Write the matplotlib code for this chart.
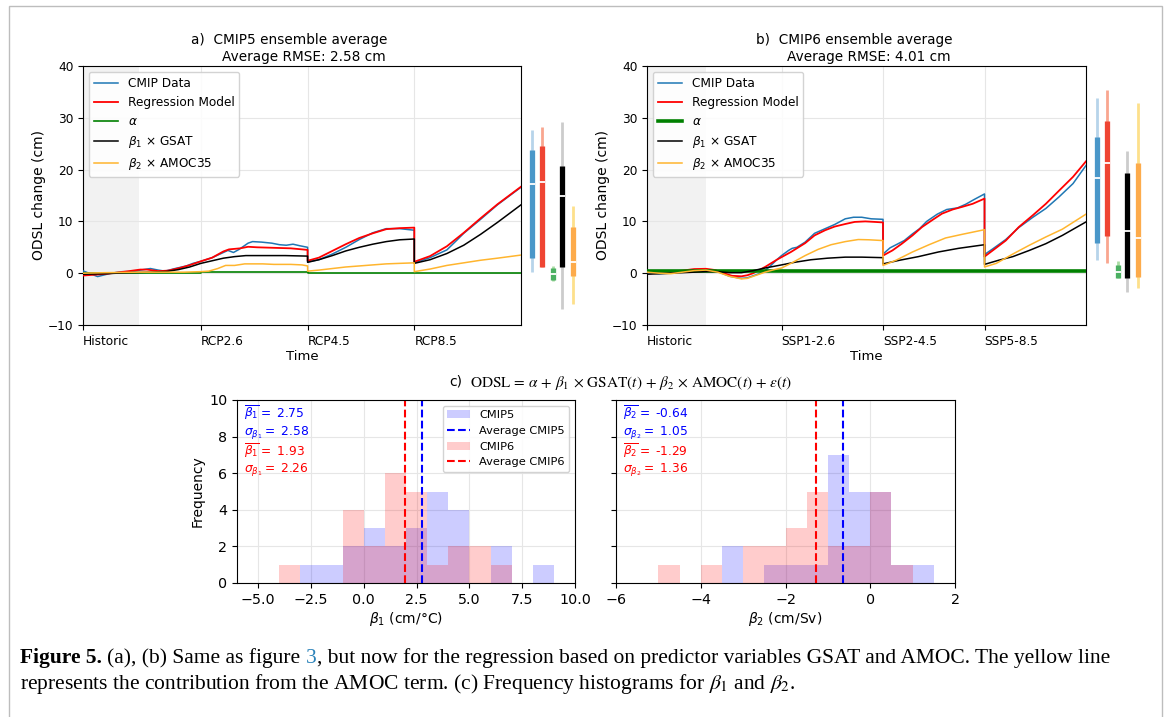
import matplotlib
matplotlib.use('Agg')
import matplotlib.pyplot as plt
import matplotlib.transforms as mtransforms
from matplotlib.patches import Rectangle, Patch
from matplotlib.lines import Line2D
import numpy as np

# ======================= DATA =======================
# ---- panel a: CMIP5 (historic 1900-2005, scenarios 2005-2100) ----
A_SCEN_LABELS = ['Historic', 'RCP2.6', 'RCP4.5', 'RCP8.5']
A_HIST_END = 2005
# CMIP data (blue)
A_CMIP_H_YR = [1900, 1913, 1925, 1935, 1944, 1951, 1960, 1967, 1973, 1982, 1992, 1998, 2005]
A_CMIP_H = [0.45, -0.65, 0.0, 0.3, 0.3, 0.6, 0.9, 0.6, 0.4, 0.9, 1.4, 1.9, 2.3]
A_CMIP_S1_YR = [2005, 2015, 2025, 2029, 2034, 2039, 2047, 2051, 2059, 2068, 2075, 2081, 2087, 2093, 2100]
A_CMIP_S1 = [2.3, 3.0, 4.0, 4.4, 4.0, 4.6, 5.8, 6.1, 6.0, 5.8, 5.5, 5.4, 5.6, 5.3, 5.0]
A_CMIP_S2_YR = [2005, 2015, 2027, 2039, 2051, 2063, 2075, 2087, 2100]
A_CMIP_S2 = [2.2, 2.6, 3.7, 5.0, 6.5, 7.8, 8.6, 8.6, 8.3]
A_CMIP_S3_YR = [2005, 2019, 2034, 2043, 2049, 2064, 2079, 2100]
A_CMIP_S3 = [2.0, 3.0, 4.5, 6.4, 7.7, 10.4, 13.2, 16.6]
# regression model (red)
A_REG_H_YR = [1900, 1916, 1928, 1941, 1951, 1957, 1967, 1976, 1986, 1995, 2005]
A_REG_H = [-0.45, -0.2, 0.05, 0.4, 0.7, 0.7, 0.4, 0.5, 1.0, 1.55, 2.3]
A_REG_S1_YR = [2005, 2015, 2025, 2030, 2040, 2047, 2055, 2070, 2085, 2100]
A_REG_S1 = [2.3, 3.0, 4.2, 4.6, 4.8, 5.1, 5.0, 4.9, 4.8, 4.5]
A_REG_S2_YR = [2005, 2015, 2027, 2039, 2051, 2063, 2075, 2087, 2100]
A_REG_S2 = [2.4, 3.0, 4.3, 5.6, 6.8, 7.7, 8.5, 8.7, 8.8]
A_REG_S3_YR = [2005, 2019, 2034, 2049, 2064, 2079, 2100]
A_REG_S3 = [2.2, 3.3, 5.2, 7.8, 10.6, 13.3, 16.7]
# beta1 x GSAT (black)
A_GSAT_H_YR = [1900, 1920, 1940, 1960, 1975, 1985, 1995, 2005]
A_GSAT_H = [-0.2, -0.1, 0.1, 0.2, 0.35, 0.7, 1.2, 1.9]
A_GSAT_S1_YR = [2005, 2015, 2025, 2035, 2045, 2060, 2080, 2100]
A_GSAT_S1 = [1.9, 2.4, 2.9, 3.2, 3.4, 3.4, 3.4, 3.3]
A_GSAT_S2_YR = [2005, 2015, 2027, 2039, 2051, 2063, 2075, 2087, 2100]
A_GSAT_S2 = [2.1, 2.6, 3.4, 4.3, 5.0, 5.6, 6.1, 6.45, 6.6]
A_GSAT_S3_YR = [2005, 2019, 2034, 2049, 2064, 2079, 2100]
A_GSAT_S3 = [1.9, 2.6, 3.8, 5.4, 7.5, 9.8, 13.2]
# beta2 x AMOC (orange)
A_AMOC_H_YR = [1900, 1920, 1950, 1970, 1990, 2005]
A_AMOC_H = [0.0, 0.1, 0.2, 0.2, 0.2, 0.3]
A_AMOC_S1_YR = [2005, 2012, 2020, 2027, 2035, 2044, 2060, 2070, 2085, 2095, 2100]
A_AMOC_S1 = [0.3, 0.4, 0.9, 1.5, 1.5, 1.8, 1.8, 1.7, 1.7, 1.6, 1.4]
A_AMOC_S2_YR = [2005, 2015, 2027, 2039, 2051, 2063, 2075, 2087, 2100]
A_AMOC_S2 = [0.4, 0.6, 0.9, 1.2, 1.4, 1.6, 1.8, 1.9, 2.0]
A_AMOC_S3_YR = [2005, 2019, 2034, 2049, 2064, 2079, 2100]
A_AMOC_S3 = [0.3, 0.8, 1.5, 2.0, 2.5, 2.9, 3.5]
# alpha per segment
A_ALPHA = [0.1, 0.2, 0.1, 0.0]
# spread bars: CMIP data, regression, alpha, GSAT, AMOC
A_BAR_LO_LIGHT = [0.3, 1.15, -1.45, -6.9, -5.9]
A_BAR_LO_DARK = [3.0, 1.25, -1.3, 1.25, -0.5]
A_BAR_MED = [17.2, 17.7, -0.15, 14.9, 2.2]
A_BAR_HI_DARK = [23.8, 24.5, 0.95, 20.7, 8.9]
A_BAR_HI_LIGHT = [27.6, 28.2, 1.4, 29.1, 13.0]

# ---- panel b: CMIP6 (historic 1900-2014, scenarios 2014-2100) ----
B_SCEN_LABELS = ['Historic', 'SSP1-2.6', 'SSP2-4.5', 'SSP5-8.5']
B_HIST_END = 2014
B_CMIP_H_YR = [1900, 1910, 1920, 1930, 1940, 1950, 1960, 1970, 1980, 1985, 1990, 1995, 2000, 2005, 2010, 2014]
B_CMIP_H = [0.1, -0.1, 0.0, 0.3, 0.6, 0.7, 0.3, -0.6, -1.0, -0.9, -0.5, -0.1, 0.5, 1.5, 2.6, 3.4]
B_CMIP_S1_YR = [2014, 2020, 2023, 2027, 2034, 2042, 2051, 2059, 2068, 2075, 2082, 2090, 2100]
B_CMIP_S1 = [3.4, 4.4, 4.8, 5.0, 6.0, 7.7, 8.6, 9.4, 10.5, 10.8, 10.8, 10.5, 10.4]
B_CMIP_S2_YR = [2014, 2020, 2026, 2032, 2039, 2045, 2051, 2060, 2068, 2077, 2084, 2091, 2100]
B_CMIP_S2 = [3.7, 4.9, 5.6, 6.3, 7.6, 8.6, 10.0, 11.4, 12.3, 12.6, 13.3, 14.2, 15.3]
B_CMIP_S3_YR = [2014, 2021, 2032, 2043, 2055, 2066, 2077, 2089, 2100]
B_CMIP_S3 = [3.6, 4.7, 6.5, 8.8, 10.8, 12.5, 14.7, 17.3, 20.8]
B_REG_H_YR = [1900, 1910, 1920, 1930, 1940, 1950, 1958, 1965, 1972, 1980, 1985, 1990, 1995, 2000, 2005, 2010, 2014]
B_REG_H = [0.4, 0.3, 0.3, 0.5, 0.8, 0.85, 0.6, 0.0, -0.5, -0.6, -0.4, 0.0, 0.6, 1.2, 1.9, 2.6, 3.1]
B_REG_S1_YR = [2014, 2022, 2034, 2042, 2051, 2059, 2068, 2076, 2085, 2093, 2100]
B_REG_S1 = [3.1, 4.1, 5.8, 7.3, 8.3, 9.0, 9.5, 9.9, 10.0, 9.9, 9.8]
B_REG_S2_YR = [2014, 2022, 2030, 2039, 2047, 2056, 2064, 2073, 2081, 2090, 2100]
B_REG_S2 = [3.4, 4.4, 5.7, 7.3, 8.9, 10.3, 11.5, 12.3, 12.8, 13.4, 14.4]
B_REG_S3_YR = [2014, 2021, 2032, 2043, 2055, 2066, 2077, 2089, 2100]
B_REG_S3 = [3.2, 4.4, 6.3, 8.9, 11.2, 13.4, 15.9, 18.6, 21.6]
B_GSAT_H_YR = [1900, 1910, 1920, 1930, 1940, 1950, 1960, 1970, 1980, 1990, 2000, 2014]
B_GSAT_H = [-0.2, -0.1, 0.0, 0.1, 0.2, 0.3, 0.3, 0.1, 0.1, 0.5, 1.0, 1.6]
B_GSAT_S1_YR = [2014, 2025, 2039, 2053, 2068, 2082, 2100]
B_GSAT_S1 = [1.6, 2.1, 2.6, 2.9, 3.1, 3.1, 3.0]
B_GSAT_S2_YR = [2014, 2028, 2044, 2061, 2078, 2100]
B_GSAT_S2 = [1.8, 2.5, 3.2, 4.1, 4.8, 5.5]
B_GSAT_S3_YR = [2014, 2026, 2038, 2052, 2066, 2080, 2100]
B_GSAT_S3 = [1.7, 2.5, 3.2, 4.4, 5.7, 7.3, 9.9]
B_AMOC_H_YR = [1900, 1910, 1920, 1930, 1940, 1950, 1960, 1970, 1980, 1985, 1990, 2000, 2008, 2014]
B_AMOC_H = [0.2, 0.0, -0.1, 0.2, 0.5, 0.6, 0.2, -0.6, -1.1, -1.0, -0.6, 0.2, 0.7, 1.0]
B_AMOC_S1_YR = [2014, 2022, 2034, 2045, 2056, 2068, 2079, 2088, 2100]
B_AMOC_S1 = [1.0, 1.9, 3.4, 4.6, 5.5, 6.1, 6.5, 6.45, 6.3]
B_AMOC_S2_YR = [2014, 2025, 2039, 2053, 2067, 2081, 2100]
B_AMOC_S2 = [1.5, 2.5, 4.1, 5.5, 6.8, 7.5, 8.4]
B_AMOC_S3_YR = [2014, 2024, 2038, 2052, 2066, 2080, 2100]
B_AMOC_S3 = [1.2, 1.9, 3.7, 5.4, 7.0, 8.5, 11.4]
B_ALPHA = [0.45, 0.45, 0.45, 0.45]
B_BAR_LO_LIGHT = [2.55, 2.0, -1.0, -3.6, -2.9]
B_BAR_LO_DARK = [5.8, 7.1, -0.85, -0.85, -0.7]
B_BAR_MED = [18.4, 21.3, 0.3, 8.2, 6.7]
B_BAR_HI_DARK = [26.2, 29.3, 1.6, 19.3, 21.3]
B_BAR_HI_LIGHT = [33.9, 35.4, 2.35, 23.6, 32.9]

# ---- panel c: histograms ----
B1_BIN_LEFT = [-4, -3, -2, -1, 0, 1, 2, 3, 4, 5, 6, 7, 8]
B1_CMIP5 = [0, 1, 1, 2, 3, 2, 3, 5, 4, 0, 2, 0, 1]
B1_CMIP6 = [1, 0, 0, 4, 2, 6, 5, 1, 2, 2, 1, 0, 0]
B1_MEAN5, B1_STD5, B1_MEAN6, B1_STD6 = 2.75, 2.58, 1.93, 2.26
B2_BIN_LEFT = [-5.0, -4.5, -4.0, -3.5, -3.0, -2.5, -2.0, -1.5, -1.0, -0.5, 0.0, 0.5, 1.0]
B2_CMIP5 = [0, 0, 0, 2, 0, 1, 1, 1, 7, 5, 5, 1, 1]
B2_CMIP6 = [1, 0, 1, 0, 2, 2, 3, 5, 2, 2, 5, 1, 0]
B2_MEAN5, B2_STD5, B2_MEAN6, B2_STD6 = -0.64, 1.05, -1.29, 1.36

# ======================= FIGURE =======================
W, H = 1171, 717
fig = plt.figure(figsize=(W / 100, H / 100), dpi=100)
fig.patch.set_facecolor('white')


def add_ax(l, t, r, b):
    return fig.add_axes([l / W, 1 - b / H, (r - l) / W, (b - t) / H])


LINE_COL = {'cmip': '#1f77b4', 'reg': 'red', 'alpha': 'green', 'gsat': 'black', 'amoc': '#ffb52e'}
BAR_DARK = ['#4a97c9', '#ef4533', '#4bb062', '#000000', '#fdab4b']
BAR_LIGHT = ['#b7d4ea', '#f9a68f', '#a9dca3', '#cccccc', '#fde08b']
BAR_X = [1.024, 1.047, 1.072, 1.094, 1.118]


def concat(segs, span):
    xs, ys = [], []
    for k, (yr, v) in enumerate(segs):
        off = 0 if k == 0 else (k - 1) * span
        xs.extend([y + off for y in yr])
        ys.extend(v)
    return xs, ys


def ts_panel(ax, hist_end, labels, series, alpha_vals, alpha_lw, bars, letter, t1, t2):
    span = 2100 - hist_end
    ax.axvspan(1900, 1950, color='#f2f2f2', zorder=0, lw=0)
    ax_x, ax_y = [], []
    bounds = [1900, hist_end, 2100, 2100 + span, 2100 + 2 * span]
    for k, a in enumerate(alpha_vals):
        ax_x += [bounds[k], bounds[k + 1]]
        ax_y += [a, a]
    h_cmip, = ax.plot(*concat(series['cmip'], span), color=LINE_COL['cmip'], lw=1.1, zorder=3)
    h_reg, = ax.plot(*concat(series['reg'], span), color=LINE_COL['reg'], lw=1.3, zorder=3)
    h_alpha, = ax.plot(ax_x, ax_y, color=LINE_COL['alpha'], lw=alpha_lw, zorder=3)
    h_gsat, = ax.plot(*concat(series['gsat'], span), color=LINE_COL['gsat'], lw=1.1, zorder=3)
    h_amoc, = ax.plot(*concat(series['amoc'], span), color=LINE_COL['amoc'], lw=1.1, zorder=3)
    ax.set_xlim(1900, 2100 + 2 * span)
    ax.set_ylim(-10, 40)
    ax.set_yticks([-10, 0, 10, 20, 30, 40])
    ax.set_xticks([1900, hist_end, 2100, 2100 + span])
    ax.set_xticklabels(labels, ha='left')
    ax.tick_params(labelsize=8.7)
    ax.grid(True, color='#e6e6e6', lw=0.8)
    ax.set_axisbelow(True)
    ax.set_xlabel('Time', fontsize=9.5, labelpad=2)
    ax.set_ylabel('ODSL change (cm)', fontsize=10, labelpad=1)
    ax.legend([h_cmip, h_reg, h_alpha, h_gsat, h_amoc],
              ['CMIP Data', 'Regression Model', r'$\alpha$',
               r'$\beta_1$ × GSAT', r'$\beta_2$ × AMOC35'],
              loc='upper left', fontsize=8.7, framealpha=0.85)
    ax.text(0.471, 1.10, letter + '  ' + t1, transform=ax.transAxes, ha='center', va='center', fontsize=9.8)
    ax.text(0.505, 1.035, t2, transform=ax.transAxes, ha='center', va='center', fontsize=9.8)
    tr = mtransforms.blended_transform_factory(ax.transAxes, ax.transData)
    lo_l, lo_d, med, hi_d, hi_l = bars
    for i in range(5):
        ax.plot([BAR_X[i]] * 2, [lo_l[i], hi_l[i]], color=BAR_LIGHT[i], lw=2.0,
                solid_capstyle='butt', transform=tr, clip_on=False)
        ax.plot([BAR_X[i]] * 2, [lo_d[i], hi_d[i]], color=BAR_DARK[i], lw=3.8,
                solid_capstyle='butt', transform=tr, clip_on=False)
        ax.plot([BAR_X[i] - 0.0075, BAR_X[i] + 0.0075], [med[i]] * 2, color='white', lw=1.3,
                solid_capstyle='butt', transform=tr, clip_on=False)


axA = add_ax(83, 66, 521, 325)
axB = add_ax(647, 66, 1086, 325)

ts_panel(axA, A_HIST_END, A_SCEN_LABELS,
         {'cmip': [(A_CMIP_H_YR, A_CMIP_H), (A_CMIP_S1_YR, A_CMIP_S1), (A_CMIP_S2_YR, A_CMIP_S2), (A_CMIP_S3_YR, A_CMIP_S3)],
          'reg': [(A_REG_H_YR, A_REG_H), (A_REG_S1_YR, A_REG_S1), (A_REG_S2_YR, A_REG_S2), (A_REG_S3_YR, A_REG_S3)],
          'gsat': [(A_GSAT_H_YR, A_GSAT_H), (A_GSAT_S1_YR, A_GSAT_S1), (A_GSAT_S2_YR, A_GSAT_S2), (A_GSAT_S3_YR, A_GSAT_S3)],
          'amoc': [(A_AMOC_H_YR, A_AMOC_H), (A_AMOC_S1_YR, A_AMOC_S1), (A_AMOC_S2_YR, A_AMOC_S2), (A_AMOC_S3_YR, A_AMOC_S3)]},
         A_ALPHA, 1.2,
         (A_BAR_LO_LIGHT, A_BAR_LO_DARK, A_BAR_MED, A_BAR_HI_DARK, A_BAR_HI_LIGHT),
         'a)', 'CMIP5 ensemble average', 'Average RMSE: 2.58 cm')

ts_panel(axB, B_HIST_END, B_SCEN_LABELS,
         {'cmip': [(B_CMIP_H_YR, B_CMIP_H), (B_CMIP_S1_YR, B_CMIP_S1), (B_CMIP_S2_YR, B_CMIP_S2), (B_CMIP_S3_YR, B_CMIP_S3)],
          'reg': [(B_REG_H_YR, B_REG_H), (B_REG_S1_YR, B_REG_S1), (B_REG_S2_YR, B_REG_S2), (B_REG_S3_YR, B_REG_S3)],
          'gsat': [(B_GSAT_H_YR, B_GSAT_H), (B_GSAT_S1_YR, B_GSAT_S1), (B_GSAT_S2_YR, B_GSAT_S2), (B_GSAT_S3_YR, B_GSAT_S3)],
          'amoc': [(B_AMOC_H_YR, B_AMOC_H), (B_AMOC_S1_YR, B_AMOC_S1), (B_AMOC_S2_YR, B_AMOC_S2), (B_AMOC_S3_YR, B_AMOC_S3)]},
         B_ALPHA, 2.6,
         (B_BAR_LO_LIGHT, B_BAR_LO_DARK, B_BAR_MED, B_BAR_HI_DARK, B_BAR_HI_LIGHT),
         'b)', 'CMIP6 ensemble average', 'Average RMSE: 4.01 cm')

# ---- histograms ----
axH1 = add_ax(237, 400, 575, 583)
axH2 = add_ax(616, 400, 955, 583)


def hist_panel(ax, left, w, c5, c6, m5, s5, m6, s6, sym, xlabel, legend):
    b5 = ax.bar(left, c5, width=w, align='edge', color='blue', alpha=0.2, lw=0)
    l5 = ax.axvline(m5, color='blue', ls='--', lw=1.5)
    b6 = ax.bar(left, c6, width=w, align='edge', color='red', alpha=0.2, lw=0)
    l6 = ax.axvline(m6, color='red', ls='--', lw=1.5)
    ax.set_ylim(0, 10)
    ax.set_yticks([0, 2, 4, 6, 8, 10])
    ax.grid(True, color='#e6e6e6', lw=0.8)
    ax.set_axisbelow(True)
    ax.tick_params(labelsize=10.3)
    ax.set_xlabel(xlabel, fontsize=10, labelpad=2)
    txts = [(r'$\overline{\beta_%s}=$ %.2f' % (sym, m5), 'blue', 0.93),
            (r'$\sigma_{\beta_%s}=$ %.2f' % (sym, s5), 'blue', 0.82),
            (r'$\overline{\beta_%s}=$ %.2f' % (sym, m6), 'red', 0.725),
            (r'$\sigma_{\beta_%s}=$ %.2f' % (sym, s6), 'red', 0.62)]
    for t, c, y in txts:
        ax.text(0.02, y, t, color=c, transform=ax.transAxes, fontsize=8.8, va='center', ha='left')
    if legend:
        ax.legend([b5, l5, b6, l6], ['CMIP5', 'Average CMIP5', 'CMIP6', 'Average CMIP6'],
                  loc='upper right', fontsize=8.2, framealpha=0.85)


hist_panel(axH1, B1_BIN_LEFT, 1.0, B1_CMIP5, B1_CMIP6, B1_MEAN5, B1_STD5, B1_MEAN6, B1_STD6,
           '1', r'$\beta_1$ (cm/°C)', True)
axH1.set_xlim(-6, 10)
axH1.set_xticks([-5, -2.5, 0, 2.5, 5, 7.5, 10])
axH1.set_xticklabels(['−5.0', '−2.5', '0.0', '2.5', '5.0', '7.5', '10.0'])
axH1.set_ylabel('Frequency', fontsize=10, labelpad=3)

hist_panel(axH2, B2_BIN_LEFT, 0.5, B2_CMIP5, B2_CMIP6, B2_MEAN5, B2_STD5, B2_MEAN6, B2_STD6,
           '2', r'$\beta_2$ (cm/Sv)', False)
axH2.set_xlim(-6, 2)
axH2.set_xticks([-6, -4, -2, 0, 2])
axH2.set_yticklabels([])

fig.text(792 / W, 1 - 383 / H,
         r'$\mathrm{ODSL}\,=\,\alpha\,+\,\beta_1\,\times\,\mathrm{GSAT}(t)\,+\,\beta_2\,\times\,'
         r'\mathrm{AMOC}(t)\,+\,\epsilon(t)$',
         fontsize=11, ha='right', va='center', math_fontfamily='stix')
renderer = fig.canvas.get_renderer()
_ft = fig.texts[-1]
_x0 = _ft.get_window_extent(renderer).x0
fig.text((_x0 - 7) / W, 1 - 382 / H, 'c)', fontsize=10, ha='right', va='center')

# ---- caption ----
CAP_FONT = 'Liberation Serif'


def text_width(s, size, **kw):
    t = fig.text(0, 0, s, fontsize=size, family=CAP_FONT, **kw)
    w = t.get_window_extent(renderer).width
    t.remove()
    return w


def draw_line(x0, ybase, pieces, size):
    sp = text_width('x x', size) - text_width('xx', size)
    x = x0
    for s, kw, space_after in pieces:
        t = fig.text(x / W, 1 - ybase / H, s, fontsize=size, family=CAP_FONT,
                     va='baseline', ha='left', **kw)
        x += t.get_window_extent(renderer).width + (sp if space_after else 0)
    return x


line1 = [('Figure 5.', {'weight': 'bold'}, True),
         ('(a), (b) Same as figure', {}, True),
         ('3', {'color': '#2b83ba'}, False),
         (', but now for the regression based on predictor variables GSAT and AMOC. The yellow line', {}, False)]
line2 = [('represents the contribution from the AMOC term. (c) Frequency histograms for $\\beta_1$ and $\\beta_2$.',
          {'math_fontfamily': 'stix'}, False)]

size0 = 12.0
tot = sum(text_width(s, size0, **kw) for s, kw, _ in line1) + 2 * (text_width('x x', size0) - text_width('xx', size0))
cap_size = size0 * (1105 - 20) / tot
draw_line(20, 663, line1, cap_size)
draw_line(20, 689, line2, cap_size)

# frame around the figure
fig.add_artist(Rectangle((8.5 / W, -0.02), (1162 - 8.5) / W, 1.02 - 6 / H, transform=fig.transFigure,
                         fill=False, ec='#bdbdbd', lw=1.0))

fig.savefig('out.png', dpi=100)
